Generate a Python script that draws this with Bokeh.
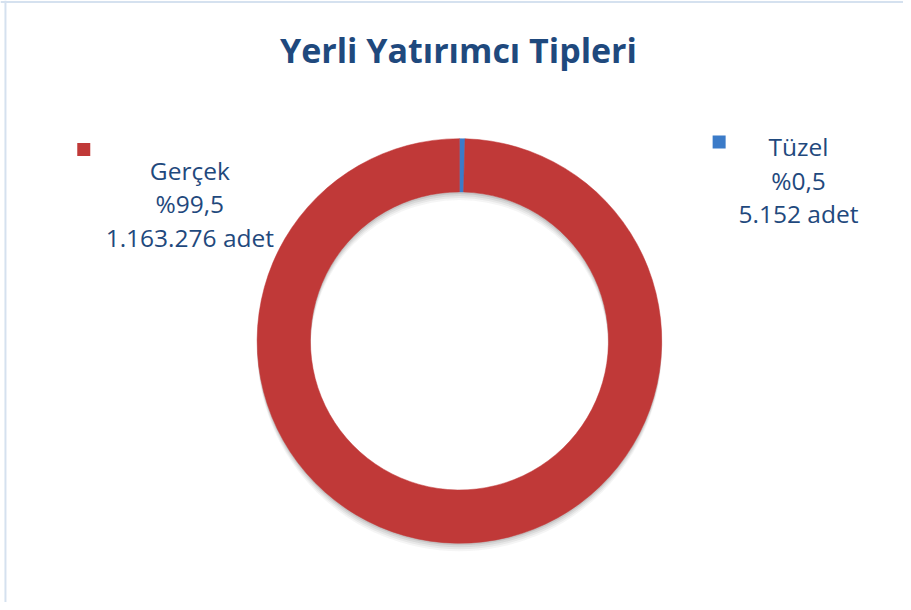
import numpy as np
from bokeh.plotting import figure
from bokeh.models import Range1d, ColumnDataSource, Span
from bokeh.core.properties import value
from bokeh.embed import file_html
from bokeh.resources import INLINE

# ---- data ----
categories = ["Tüzel", "Gerçek"]
counts = [5152, 1163276]
pct_labels = ["%0,5", "%99,5"]
count_labels = ["5.152 adet", "1.163.276 adet"]
colors = ["#3b7bc8", "#c03938"]
title_text = "Yerli Yatırımcı Tipleri"

W, H = 903, 602
SX, SY = W / 911, H / 610

def fx(ix):
    return ix * SX

def fy(iy):
    return H - iy * SY

p = figure(width=W, height=H, output_backend="svg", toolbar_location=None,
           x_range=Range1d(0, W), y_range=Range1d(0, H), min_border=0)
p.axis.visible = False
p.grid.visible = False
p.outline_line_color = None
p.background_fill_color = "white"
p.border_fill_color = "white"

# chart-area border (left and top edges visible)
p.add_layout(Span(location=fx(5), dimension="height", line_color="#d5e1ef", line_width=2))
p.add_layout(Span(location=fy(1.5), dimension="width", line_color="#d5e1ef", line_width=2))

# wedge angles (clockwise from 12 o'clock)
vals = np.array(counts, dtype=float)
frac = vals / vals.sum()
cum = np.concatenate([[0], np.cumsum(frac)])
start = np.pi / 2 - 2 * np.pi * cum[:-1]
end = np.pi / 2 - 2 * np.pi * cum[1:]

cx, cy = fx(463), fy(345)
R_out, R_in = 205 * SY, 151 * SY

# soft shadow
for k, a in [(8, 0.05), (6, 0.07), (4, 0.09), (2, 0.12)]:
    p.annular_wedge(x=cx, y=cy - k, inner_radius=R_in, outer_radius=R_out,
                    start_angle=0, end_angle=2 * np.pi,
                    inner_radius_units="screen", outer_radius_units="screen",
                    fill_color="#444444", fill_alpha=a, line_color=None)

src = ColumnDataSource(dict(cat=categories, start=start, end=end, color=colors))
p.annular_wedge(x=cx, y=cy, inner_radius=R_in, outer_radius=R_out,
                start_angle="start", end_angle="end", direction="clock",
                inner_radius_units="screen", outer_radius_units="screen",
                fill_color="color", line_color="color", line_width=0.5, source=src)

# title
p.text(x=[fx(462)], y=[fy(50)], text=[title_text], text_align="center",
       text_baseline="middle", text_font=value("Open Sans"), text_font_style="bold",
       text_font_size="34px", text_color="#1f497d")

# labels
label_cx = [fx(805), fx(191)]
label_top = [fy(148), fy(172)]
step = 34 * SY
for i in range(len(categories)):
    lines = [categories[i], pct_labels[i], count_labels[i]]
    ys = [label_top[i] - step * j for j in range(3)]
    p.text(x=[label_cx[i]] * 3, y=ys, text=lines, text_align="center",
           text_baseline="middle", text_font=value("Open Sans"),
           text_font_size="24.5px", text_color="#1f497d")

# legend squares
sq_x = [fx(725), fx(84)]
sq_y = [fy(143.5), fy(151)]
p.rect(x=sq_x, y=sq_y, width=13, height=13, width_units="screen",
       height_units="screen", fill_color=colors, line_color=None)

open("out.html", "w").write(file_html(p, INLINE))
